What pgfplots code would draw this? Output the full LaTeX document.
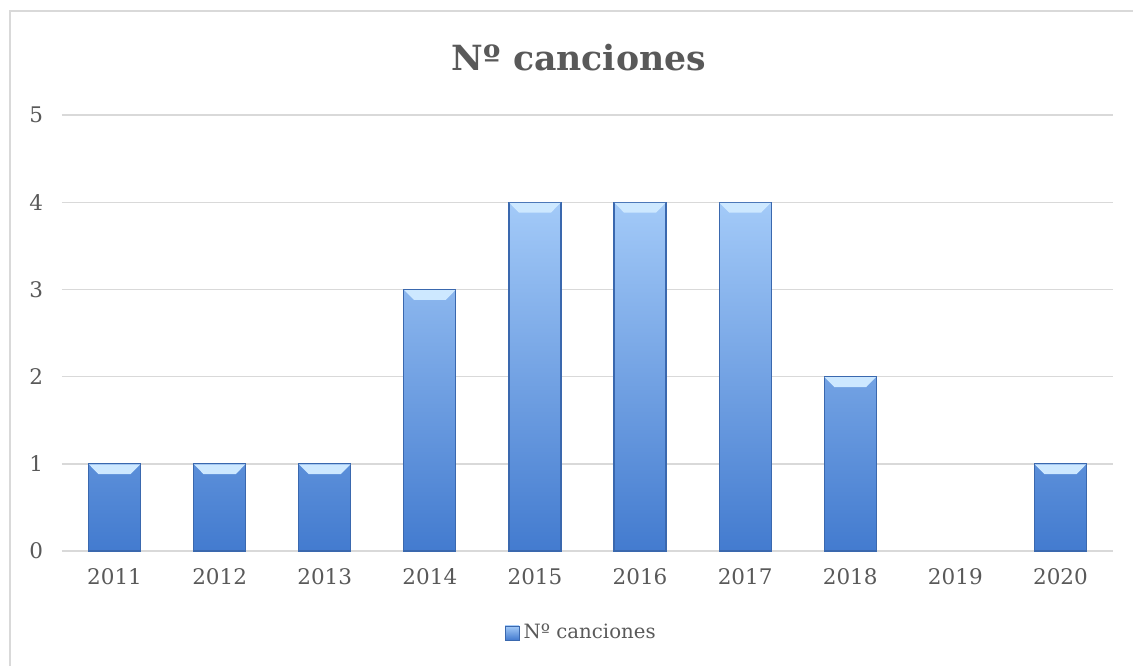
\documentclass[border=0pt]{standalone}
\usepackage{pgfplots}
\pgfplotsset{compat=1.18}
\usepackage{fontspec}
\setmainfont{DejaVu Serif}
\definecolor{txt}{HTML}{595959}
\definecolor{gridc}{HTML}{D9D9D9}
\definecolor{bartop}{HTML}{A3CAF8}
\definecolor{barbot}{HTML}{437BCF}
\definecolor{baredge}{HTML}{3A68AE}
\definecolor{capc}{HTML}{CDE8FF}
\pgfdeclareplotmark{cap}{%
  \pgfpathmoveto{\pgfpoint{-12.8bp}{-0.3bp}}%
  \pgfpathlineto{\pgfpoint{12.8bp}{-0.3bp}}%
  \pgfpathlineto{\pgfpoint{8bp}{-5.2bp}}%
  \pgfpathlineto{\pgfpoint{-8bp}{-5.2bp}}%
  \pgfpathclose\pgfusepathqfill}
\begin{document}
\begin{tikzpicture}
\useasboundingbox (-31bp,-57.5bp) rectangle (535.5bp,275.5bp);
\draw[gridc, line width=0.7bp] (-26bp,-60bp) -- (-26bp,270bp) -- (540bp,270bp);
\begin{axis}[
  at={(0,0)}, anchor=south west,
  scale only axis, width=525.5bp, height=218bp,
  xmin=-0.5, xmax=9.5, ymin=0, ymax=5,
  xtick={0,...,9},
  xticklabels={2011,2012,2013,2014,2015,2016,2017,2018,2019,2020},
  ytick={0,...,5},
  ymajorgrids, grid style={gridc, line width=0.7bp},
  axis line style={draw=none}, tick style={draw=none},
  /pgf/number format/assume math mode=true,
  ticklabel style={font=\fontsize{10.8}{13}\selectfont, text=txt},
  xticklabel style={yshift=-5bp},
  yticklabel style={xshift=-6bp},
  legend style={at={(0.495,-0.188)}, anchor=center, draw=none, fill=none,
    font=\fontsize{9.9}{12}\selectfont, text=txt, inner sep=0pt,
    /tikz/every even column/.append style={column sep=0pt}},
  legend image code/.code={\draw[top color=bartop, bottom color=barbot, draw=baredge, line width=0.4bp] (0bp,-3.5bp) rectangle (7bp,3.5bp);},
]
\draw[gridc, line width=1.1bp] (axis cs:-0.5,0) -- (axis cs:9.5,0);
\addplot[ybar, bar width=26bp, bar shift=0pt, draw=baredge, line width=0.6bp,
  top color=bartop, bottom color=barbot] coordinates {
  (0,1) (1,1) (2,1) (3,3) (4,4) (5,4) (6,4) (7,2) (9,1)};
\addlegendentry{Nº canciones}
\addplot[only marks, mark=cap, mark options={fill=capc, draw=none}, forget plot] coordinates {
  (0,1) (1,1) (2,1) (3,3) (4,4) (5,4) (6,4) (7,2) (9,1)};
\end{axis}
\node[font=\bfseries\fontsize{17.4}{21}\selectfont, text=txt] at (258.5bp,246.5bp) {Nº canciones};
\end{tikzpicture}
\end{document}
